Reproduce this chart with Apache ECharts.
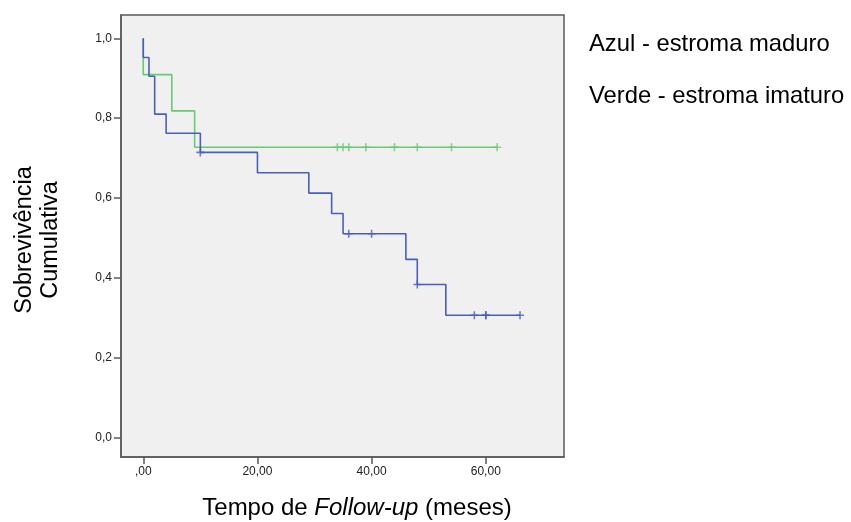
<!DOCTYPE html>
<html>
<head>
<meta charset="utf-8">
<script src="https://cdn.jsdelivr.net/npm/echarts@6/dist/echarts.min.js"></script>
<style>
html,body{margin:0;padding:0;background:#fff;}
#chart{width:851px;height:522px;}
</style>
</head>
<body>
<div id="chart"></div>
<script>
// Data (Kaplan-Meier steps)
const blueTimes = [0, 0, 1, 2, 4, 10, 20, 29, 33, 35, 46, 48, 53, 66];
const blueSurv  = [1.0, 0.952, 0.905, 0.810, 0.762, 0.714, 0.663, 0.612, 0.561, 0.510, 0.446, 0.383, 0.306, 0.306];
const blueCensorT = [10, 36, 40, 48, 58, 60, 60, 66];
const blueCensorS = [0.714, 0.510, 0.510, 0.383, 0.306, 0.306, 0.306, 0.306];

const greenTimes = [0, 0, 5, 9, 62];
const greenSurv  = [1.0, 0.909, 0.818, 0.727, 0.727];
const greenCensorT = [34, 35, 36, 39, 44, 48, 54, 62];
const greenCensorS = [0.727, 0.727, 0.727, 0.727, 0.727, 0.727, 0.727, 0.727];

const xTicks = [0, 20, 40, 60];
const xTickLabels = [',00', '20,00', '40,00', '60,00'];
const yTicks = [0, 0.2, 0.4, 0.6, 0.8, 1.0];
const yTickLabels = ['0,0', '0,2', '0,4', '0,6', '0,8', '1,0'];

const legendLabels = ['Azul - estroma maduro', 'Verde - estroma imaturo'];
const xTitleParts = ['Tempo de ', 'Follow-up', ' (meses)'];
const yTitleLines = ['Sobrevivência', 'Cumulativa'];

const BLUE = '#4a5ec0';
const GREEN = '#66cb72';
const FONT = '"Liberation Sans", Arial, sans-serif';

const zip = (a, b) => a.map((v, i) => [v, b[i]]);
const plusPath = 'path://M3.2,0h1.6v8h-1.6z M0,3.2h8v1.6h-8z';

const chart = echarts.init(document.getElementById('chart'), null, {renderer: 'canvas'});
chart.setOption({
  animation: false,
  backgroundColor: '#ffffff',
  grid: {
    left: 121, top: 15, width: 443, height: 442,
    show: true, backgroundColor: '#f0f0f0', borderColor: '#5a5a5a', borderWidth: 1.5
  },
  xAxis: {
    type: 'value', min: -3.9, max: 73.7,
    splitLine: {show: false},
    axisLine: {show: true, onZero: false, lineStyle: {color: '#5a5a5a', width: 1.5}},
    axisTick: {show: true, length: 7, customValues: xTicks, lineStyle: {color: '#5a5a5a', width: 1.5}},
    axisLabel: {
      customValues: xTicks, margin: 9, color: '#222', fontSize: 12, fontFamily: FONT,
      formatter: v => xTickLabels[xTicks.indexOf(v)] ?? ''
    }
  },
  yAxis: {
    type: 'value', min: -0.0494, max: 1.0584,
    splitLine: {show: false},
    axisLine: {show: true, onZero: false, lineStyle: {color: '#5a5a5a', width: 1.5}},
    axisTick: {show: true, length: 7, customValues: yTicks, lineStyle: {color: '#5a5a5a', width: 1.5}},
    axisLabel: {
      customValues: yTicks, margin: 9, color: '#222', fontSize: 12, fontFamily: FONT,
      formatter: v => {
        const i = yTicks.findIndex(t => Math.abs(t - v) < 1e-6);
        return i >= 0 ? yTickLabels[i] : '';
      }
    }
  },
  series: [
    {
      name: legendLabels[1], type: 'line', step: 'end', showSymbol: false,
      data: zip(greenTimes, greenSurv),
      lineStyle: {color: GREEN, width: 1.6}, z: 2
    },
    {
      name: legendLabels[0], type: 'line', step: 'end', showSymbol: false,
      data: zip(blueTimes, blueSurv),
      lineStyle: {color: BLUE, width: 1.6}, z: 3
    },
    {
      type: 'scatter', symbol: plusPath, symbolSize: 8,
      data: zip(greenCensorT, greenCensorS),
      itemStyle: {color: GREEN}, z: 4
    },
    {
      type: 'scatter', symbol: plusPath, symbolSize: 8,
      data: zip(blueCensorT, blueCensorS),
      itemStyle: {color: BLUE}, z: 5
    }
  ],
  graphic: [
    {
      type: 'text', left: 589, top: 32,
      style: {text: legendLabels[0], font: '23.8px ' + FONT, fill: '#000'}
    },
    {
      type: 'text', left: 589, top: 84,
      style: {text: legendLabels[1], font: '23.8px ' + FONT, fill: '#000'}
    },
    {
      type: 'text', x: 357, y: 508,
      style: {
        text: '{n|' + xTitleParts[0] + '}{i|' + xTitleParts[1] + '}{n|' + xTitleParts[2] + '}',
        align: 'center', verticalAlign: 'middle',
        rich: {
          n: {font: '24px ' + FONT, fill: '#000'},
          i: {font: 'italic 24px ' + FONT, fill: '#000'}
        }
      }
    },
    {
      type: 'text', x: 38, y: 240, rotation: Math.PI / 2,
      style: {
        text: yTitleLines.join('\n'), font: '23.5px ' + FONT, fill: '#000',
        align: 'center', verticalAlign: 'middle', lineHeight: 26
      }
    }
  ]
});
</script>
</body>
</html>
